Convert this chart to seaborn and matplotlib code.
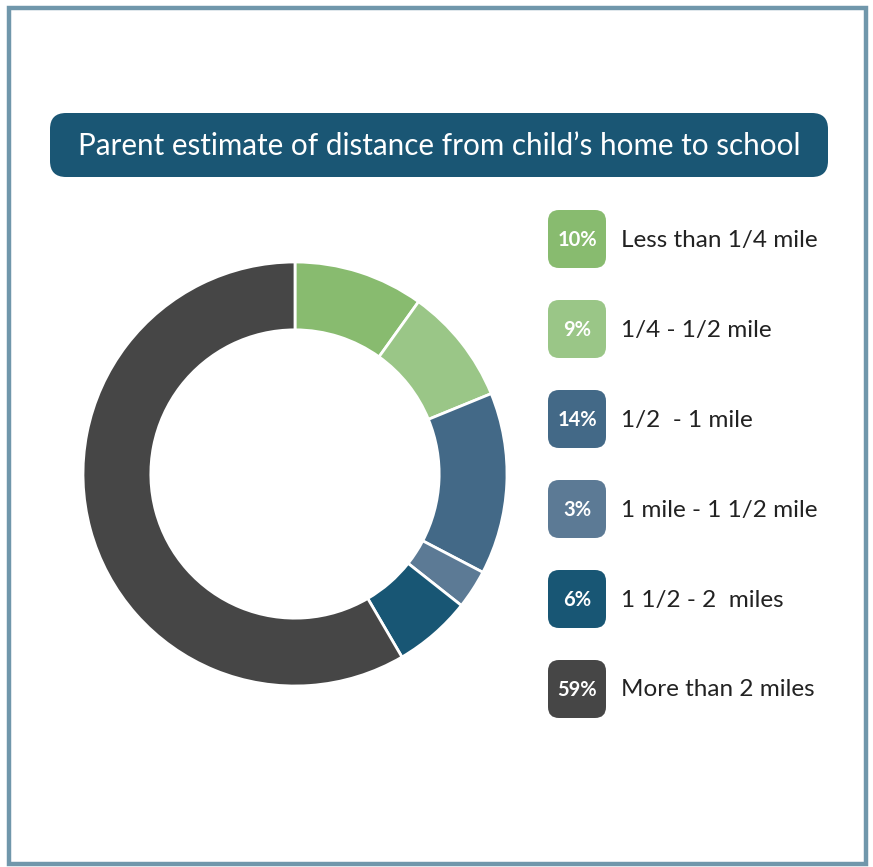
import matplotlib
matplotlib.use("Agg")
import matplotlib.pyplot as plt
from matplotlib.patches import FancyBboxPatch, Rectangle
import seaborn as sns

categories = ["Less than 1/4 mile", "1/4 - 1/2 mile", "1/2  - 1 mile",
              "1 mile - 1 1/2 mile", "1 1/2 - 2  miles", "More than 2 miles"]
shares = [10, 9, 14, 3, 6, 59]
colors = ["#88bb6f", "#9ac687", "#436987", "#5c7a95", "#185674", "#464646"]
title = "Parent estimate of distance from child\u2019s home to school"

sns.set_theme(style="white")
plt.rcParams["font.family"] = ["Lato", "DejaVu Sans"]

W, H = 873, 867
fig = plt.figure(figsize=(W / 100, H / 100), dpi=100)
fig.patch.set_facecolor("white")

# overlay in pixel coordinates (origin top-left)
bg = fig.add_axes([0, 0, 1, 1])
bg.set_xlim(0, W)
bg.set_ylim(H, 0)
bg.axis("off")

bg.add_patch(Rectangle((9, 8), 857, 856, fill=False, lw=3.2,
                       edgecolor="#7097ab"))

bg.add_patch(FancyBboxPatch((50, 113), 778, 64,
                            boxstyle="round,pad=0,rounding_size=16",
                            facecolor="#1a5674", edgecolor="none"))
bg.text(439, 146, title, color="white", fontsize=21.3, ha="center",
        va="center")

palette = sns.color_palette(colors)
for i, (cat, val) in enumerate(zip(categories, shares)):
    cy = 239 + 90 * i
    bg.add_patch(FancyBboxPatch((548, cy - 29), 58, 58,
                                boxstyle="round,pad=0,rounding_size=11",
                                facecolor=palette[i], edgecolor="none"))
    bg.text(577, cy + 1, f"{val}%", color="white", fontsize=14.5,
            fontweight="bold", ha="center", va="center")
    bg.text(621, cy + 1, cat, color="#222222", fontsize=17.5,
            fontweight="normal", ha="left", va="center")

# donut chart
cx, cy, r = 295, 474, 212
ax = fig.add_axes([(cx - r) / W, (H - cy - r) / H, 2 * r / W, 2 * r / H])
ax.pie(shares, colors=palette, startangle=90, counterclock=False,
       radius=1.0,
       wedgeprops=dict(width=0.32, edgecolor="white", linewidth=2))
ax.set_xlim(-1, 1)
ax.set_ylim(-1, 1)
ax.set_aspect("equal")
ax.axis("off")

fig.savefig("out.png", dpi=100, facecolor="white")
